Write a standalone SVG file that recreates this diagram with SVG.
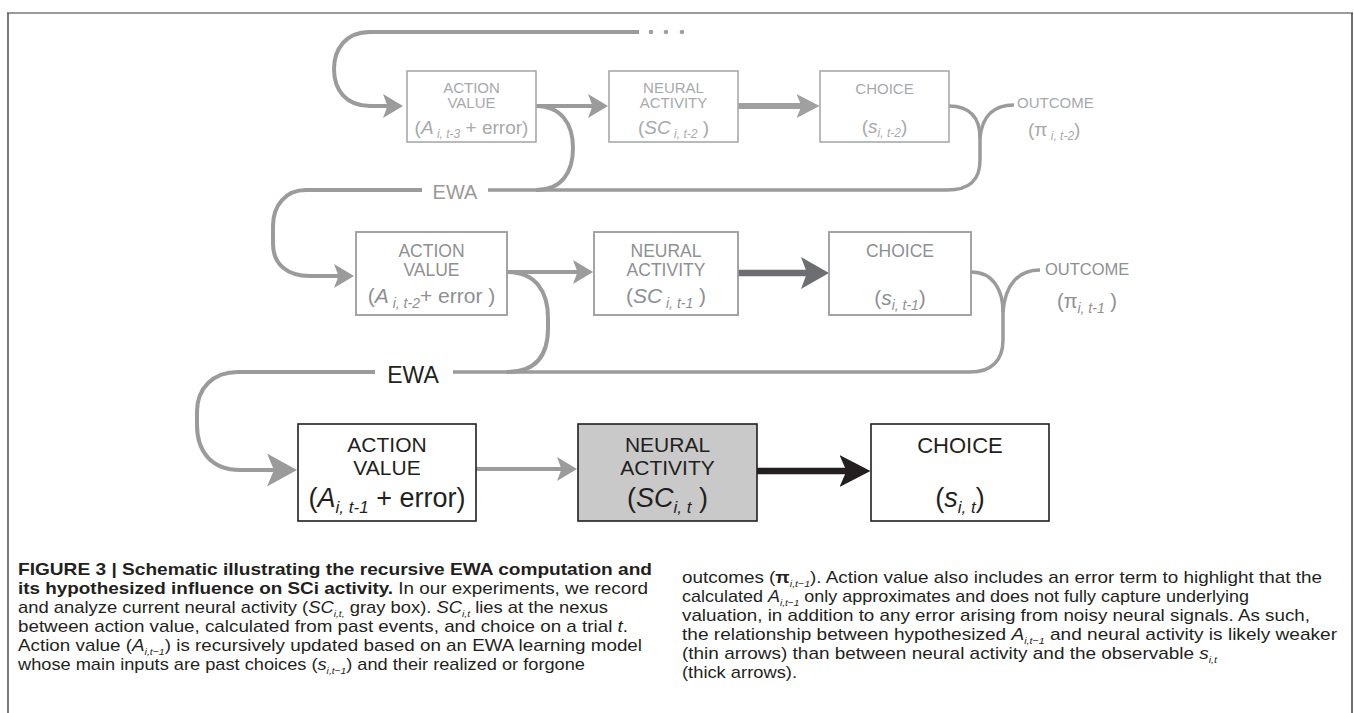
<svg xmlns="http://www.w3.org/2000/svg" width="1354" height="713" viewBox="0 0 1354 713">
<style>
text{font-family:'Liberation Sans',Arial,sans-serif}
.t1{fill:#a7a9ac}
.t2{fill:#8e9093}
.t3{fill:#231f20}
.b1{fill:#fff;stroke:#a7a9ac;stroke-width:1.6}
.b2{fill:#fff;stroke:#999b9e;stroke-width:1.8}
.b3{fill:#fff;stroke:#231f20;stroke-width:1.6}
.b3g{fill:#c9c9c9;stroke:#231f20;stroke-width:1.6}
.g{fill:none;stroke:#9b9b9b;stroke-width:4}
.gt{fill:none;stroke:#9b9b9b;stroke-width:3.5}
.i{font-style:italic}
.cap{font-size:17px;fill:#231f20}
.bd{font-weight:bold}
.sb{font-size:9.5px;font-style:italic}
</style>
<defs>
<marker id="ahs" markerUnits="userSpaceOnUse" viewBox="0 0 20 24" refX="10" refY="12" markerWidth="20" markerHeight="24" orient="auto"><path d="M0,0 L20,12 L0,24 L4.5,12 Z" fill="#9b9b9b"/></marker>
<marker id="ahm" markerUnits="userSpaceOnUse" viewBox="0 0 30 33" refX="15" refY="16.5" markerWidth="30" markerHeight="33" orient="auto"><path d="M0,0 L30,16.5 L0,33 L7,16.5 Z" fill="#9b9b9b"/></marker>
<marker id="aht1" markerUnits="userSpaceOnUse" viewBox="0 0 23 24" refX="11.5" refY="12" markerWidth="23" markerHeight="24" orient="auto"><path d="M0,0 L23,12 L0,24 L5,12 Z" fill="#a0a0a0"/></marker>
<marker id="aht2" markerUnits="userSpaceOnUse" viewBox="0 0 28 32" refX="14" refY="16" markerWidth="28" markerHeight="32" orient="auto"><path d="M0,0 L28,16 L0,32 L6,16 Z" fill="#6d6e71"/></marker>
<marker id="aht3" markerUnits="userSpaceOnUse" viewBox="0 0 31 32" refX="15.5" refY="16" markerWidth="31" markerHeight="32" orient="auto"><path d="M0,0 L31,16 L0,32 L7,16 Z" fill="#231f20"/></marker>
</defs>
<rect width="1354" height="713" fill="#fff"/>
<g id="frame">
<line x1="7" y1="13" x2="1353" y2="13" stroke="#7a7a7a" stroke-width="1.4"/>
<line x1="8" y1="13" x2="8" y2="713" stroke="#444" stroke-width="1.4"/>
<line x1="1352" y1="13" x2="1352" y2="713" stroke="#333" stroke-width="1.4"/>
</g>
<g id="connectors">
<path class="g" d="M639,32 H370 C345,32 334,50 334,69 C334,90 346,106 370,106 L393,106" marker-end="url(#ahs)"/>
<circle cx="651" cy="32" r="2.3" fill="#a0a0a0"/>
<circle cx="666" cy="32" r="2.3" fill="#a0a0a0"/>
<circle cx="682" cy="32" r="2.3" fill="#a0a0a0"/>
<path class="g" d="M536,106 L598,106" marker-end="url(#ahs)"/>
<path class="g" d="M536,106 C562,106 573,125 573,148 C573,172 562,190 536,190"/>
<path class="gt" d="M949,106 C970,106 980,118 980,138 L980,160 C980,180 970,190 947,190 H488"/>
<path class="gt" d="M1014,105 C995,105 982,115 980,138"/>
<path class="g" d="M422,190 H306 C286,190 273,205 273,226 L273,244 C273,264 287,276 310,276 L344,276" marker-end="url(#ahs)"/>
<path class="g" d="M507,272 L583,272" marker-end="url(#ahs)"/>
<path class="g" d="M507,272 C536,272 548,292 548,318 L548,328 C548,355 536,372 507,372"/>
<path class="gt" d="M971,272 C993,272 1003,290 1003,312 L1003,340 C1003,360 992,372 970,372 H453"/>
<path class="gt" d="M1040,270 C1018,270 1005,285 1003,312"/>
<path class="g" d="M375,372 H238 C213,372 197,388 197,412 L197,425 C197,452 212,470 240,470 L282,470" marker-end="url(#ahm)"/>
<path class="g" d="M476,469 L567,469" marker-end="url(#ahs)"/>
<path d="M738,106 L808,106" fill="none" stroke="#a0a0a0" stroke-width="6" marker-end="url(#aht1)"/>
<path d="M738,273 L815,273" fill="none" stroke="#6d6e71" stroke-width="6.5" marker-end="url(#aht2)"/>
<path d="M757,471 L855,471" fill="none" stroke="#231f20" stroke-width="6.5" marker-end="url(#aht3)"/>
</g>
<g id="ewa1"><text x="455" y="199" text-anchor="middle" font-size="20" style="fill:#999">EWA</text></g>
<g id="ewa2"><text x="413" y="383" text-anchor="middle" font-size="23" class="t3">EWA</text></g>

<g id="av1">
<rect class="b1" x="407" y="71" width="129" height="71"/>
<text x="471.5" y="93" text-anchor="middle" font-size="15" class="t1">ACTION</text>
<text x="471.5" y="108" text-anchor="middle" font-size="15" class="t1">VALUE</text>
<text x="471.5" y="134" text-anchor="middle" font-size="19" class="t1">(<tspan class="i">A</tspan><tspan class="i" font-size="12" dy="4"> i, t-3</tspan><tspan dy="-4"> + error)</tspan></text>
</g>
<g id="na1">
<rect class="b1" x="609" y="71" width="129" height="71"/>
<text x="673.5" y="93" text-anchor="middle" font-size="15" class="t1">NEURAL</text>
<text x="673.5" y="108" text-anchor="middle" font-size="15" class="t1">ACTIVITY</text>
<text x="673.5" y="134" text-anchor="middle" font-size="19" class="t1">(<tspan class="i">SC</tspan><tspan class="i" font-size="12" dy="4"> i, t-2</tspan><tspan dy="-4"> )</tspan></text>
</g>
<g id="ch1">
<rect class="b1" x="820" y="71" width="129" height="71"/>
<text x="884.5" y="94" text-anchor="middle" font-size="15" class="t1">CHOICE</text>
<text x="884.5" y="133" text-anchor="middle" font-size="19" class="t1">(<tspan class="i">s</tspan><tspan class="i" font-size="12" dy="4">i, t-2</tspan><tspan dy="-4">)</tspan></text>
</g>
<g id="out1">
<text x="1017" y="108" font-size="15" class="t1">OUTCOME</text>
<text x="1028" y="136" font-size="19" class="t1">(π<tspan class="i" font-size="12" dy="4"> i, t-2</tspan><tspan dy="-4">)</tspan></text>
</g>

<g id="av2">
<rect class="b2" x="356" y="232" width="151" height="83"/>
<text x="431.5" y="257" text-anchor="middle" font-size="17.5" class="t2">ACTION</text>
<text x="431.5" y="276" text-anchor="middle" font-size="17.5" class="t2">VALUE</text>
<text x="431.5" y="303" text-anchor="middle" font-size="21" class="t2">(<tspan class="i">A</tspan><tspan class="i" font-size="14" dy="5"> i, t-2</tspan><tspan dy="-5">+ error )</tspan></text>
</g>
<g id="na2">
<rect class="b2" x="594" y="232" width="144" height="83"/>
<text x="666" y="257" text-anchor="middle" font-size="17.5" class="t2">NEURAL</text>
<text x="666" y="276" text-anchor="middle" font-size="17.5" class="t2">ACTIVITY</text>
<text x="666" y="303" text-anchor="middle" font-size="21" class="t2">(<tspan class="i">SC</tspan><tspan class="i" font-size="14" dy="5"> i, t-1</tspan><tspan dy="-5"> )</tspan></text>
</g>
<g id="ch2">
<rect class="b2" x="829" y="232" width="142" height="83"/>
<text x="900" y="257" text-anchor="middle" font-size="17.5" class="t2">CHOICE</text>
<text x="900" y="305" text-anchor="middle" font-size="21" class="t2">(<tspan class="i">s</tspan><tspan class="i" font-size="14" dy="5">i, t-1</tspan><tspan dy="-5">)</tspan></text>
</g>
<g id="out2">
<text x="1045" y="275" font-size="16.5" class="t2">OUTCOME</text>
<text x="1057" y="308" font-size="20" class="t2">(π<tspan class="i" font-size="14" dy="5">i, t-1</tspan><tspan dy="-5"> )</tspan></text>
</g>

<g id="av3">
<rect class="b3" x="298" y="424" width="178" height="97"/>
<text x="387" y="452" text-anchor="middle" font-size="21" class="t3">ACTION</text>
<text x="387" y="475" text-anchor="middle" font-size="21" class="t3">VALUE</text>
<text x="387" y="507" text-anchor="middle" font-size="27" class="t3">(<tspan class="i">A</tspan><tspan class="i" font-size="17" dy="6">i, t-1</tspan><tspan dy="-6"> + error)</tspan></text>
</g>
<g id="na3">
<rect class="b3g" x="578" y="424" width="179" height="97"/>
<text x="667.5" y="452" text-anchor="middle" font-size="21" class="t3">NEURAL</text>
<text x="667.5" y="475" text-anchor="middle" font-size="21" class="t3">ACTIVITY</text>
<text x="667.5" y="507" text-anchor="middle" font-size="27" class="t3">(<tspan class="i">SC</tspan><tspan class="i" font-size="17" dy="6">i, t</tspan><tspan dy="-6"> )</tspan></text>
</g>
<g id="ch3">
<rect class="b3" x="871" y="424" width="178" height="97"/>
<text x="960" y="453" text-anchor="middle" font-size="22" class="t3">CHOICE</text>
<text x="960" y="507" text-anchor="middle" font-size="27" class="t3">(<tspan class="i">s</tspan><tspan class="i" font-size="17" dy="6">i, t</tspan><tspan dy="-6">)</tspan></text>
</g>

<g id="caption">
<text class="cap bd" x="18" y="575" textLength="634" lengthAdjust="spacingAndGlyphs">FIGURE 3 | Schematic illustrating the recursive EWA computation and</text>
<text class="cap" x="18" y="594" textLength="630" lengthAdjust="spacingAndGlyphs"><tspan class="bd">its hypothesized influence on SCi activity.</tspan> In our experiments, we record</text>
<text class="cap" x="18" y="613" textLength="590" lengthAdjust="spacingAndGlyphs">and analyze current neural activity (<tspan class="i">SC</tspan><tspan class="sb" dy="3.5">i,t,</tspan><tspan dy="-3.5"> gray box). </tspan><tspan class="i">SC</tspan><tspan class="sb" dy="3.5">i,t</tspan><tspan dy="-3.5"> lies at the nexus</tspan></text>
<text class="cap" x="18" y="632" textLength="610" lengthAdjust="spacingAndGlyphs">between action value, calculated from past events, and choice on a trial <tspan class="i">t</tspan>.</text>
<text class="cap" x="18" y="651" textLength="624" lengthAdjust="spacingAndGlyphs">Action value (<tspan class="i">A</tspan><tspan class="sb" dy="3.5">i,t−1</tspan><tspan dy="-3.5">) is recursively updated based on an EWA learning model</tspan></text>
<text class="cap" x="18" y="670" textLength="567" lengthAdjust="spacingAndGlyphs">whose main inputs are past choices (<tspan class="i">s</tspan><tspan class="sb" dy="3.5">i,t−1</tspan><tspan dy="-3.5">) and their realized or forgone</tspan></text>
<text class="cap" x="682" y="583" textLength="640" lengthAdjust="spacingAndGlyphs">outcomes (<tspan class="bd">π</tspan><tspan class="sb" dy="3.5">i,t−1</tspan><tspan dy="-3.5">). Action value also includes an error term to highlight that the</tspan></text>
<text class="cap" x="682" y="602" textLength="567" lengthAdjust="spacingAndGlyphs">calculated <tspan class="i">A</tspan><tspan class="sb" dy="3.5">i,t−1</tspan><tspan dy="-3.5"> only approximates and does not fully capture underlying</tspan></text>
<text class="cap" x="682" y="621" textLength="628" lengthAdjust="spacingAndGlyphs">valuation, in addition to any error arising from noisy neural signals. As such,</text>
<text class="cap" x="682" y="640" textLength="655" lengthAdjust="spacingAndGlyphs">the relationship between hypothesized <tspan class="i">A</tspan><tspan class="sb" dy="3.5">i,t−1</tspan><tspan dy="-3.5"> and neural activity is likely weaker</tspan></text>
<text class="cap" x="682" y="659" textLength="535" lengthAdjust="spacingAndGlyphs">(thin arrows) than between neural activity and the observable <tspan class="i">s</tspan><tspan class="sb" dy="3.5">i,t</tspan></text>
<text class="cap" x="682" y="678" textLength="115" lengthAdjust="spacingAndGlyphs">(thick arrows).</text>
</g>
</svg>
